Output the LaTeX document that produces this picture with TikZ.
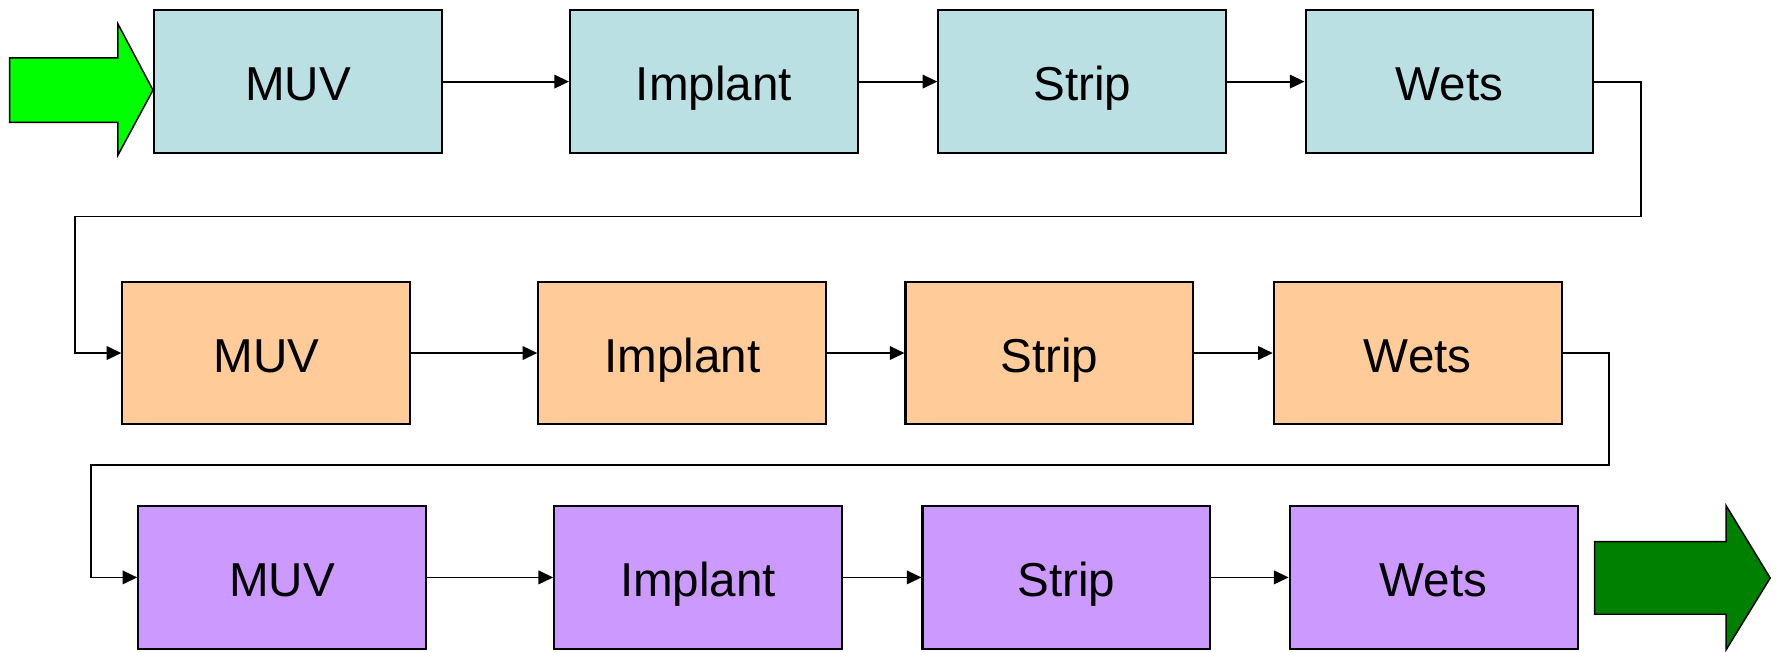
\documentclass[tikz,border=0pt]{standalone}
\usepackage{fontspec}
\setmainfont{Liberation Sans}
\usetikzlibrary{arrows.meta}
\definecolor{rowblue}{HTML}{BBE0E3}
\definecolor{rowpeach}{HTML}{FFCC99}
\definecolor{rowlilac}{HTML}{CC99FF}
\definecolor{startgreen}{HTML}{00FF00}
\definecolor{endgreen}{HTML}{008000}
\begin{document}
\begin{tikzpicture}[x=1pt,y=-1pt,
  stage/.style={draw=black, line width=1.8pt, minimum width=254pt,
    minimum height=126pt, inner sep=0pt, text height=34pt, text depth=0pt,
    font=\fontsize{42}{50}\selectfont},
  flow/.style={line width=1.6pt, -{Triangle[length=13pt,width=12pt]}},
  bigarrow/.style={draw=black, line width=1.3pt, line join=miter}]
\useasboundingbox (0,0) rectangle (1568,575);

% first pass
\node[stage, fill=rowblue] (a1) at (263,72) {MUV};
\node[stage, fill=rowblue] (a2) at (630,72) {Implant};
\node[stage, fill=rowblue] (a3) at (955,72) {Strip};
\node[stage, fill=rowblue] (a4) at (1279,72) {Wets};

% second pass
\node[stage, fill=rowpeach] (b1) at (235,311.5) {MUV};
\node[stage, fill=rowpeach] (b2) at (602,311.5) {Implant};
\node[stage, fill=rowpeach] (b3) at (926,311.5) {Strip};
\node[stage, fill=rowpeach] (b4) at (1251,311.5) {Wets};

% third pass
\node[stage, fill=rowlilac] (c1) at (249,509.5) {MUV};
\node[stage, fill=rowlilac] (c2) at (616,509.5) {Implant};
\node[stage, fill=rowlilac] (c3) at (941,509.5) {Strip};
\node[stage, fill=rowlilac] (c4) at (1265,509.5) {Wets};

% wrap-around turning points
\coordinate (r1) at (1448,191);
\coordinate (l1) at (66,191);
\coordinate (r2) at (1420,410);
\coordinate (l2) at (80,410);

\draw[flow] (a1) -- (a2);
\draw[flow] (a2) -- (a3);
\draw[flow] (a3) -- (a4);
\draw[flow] (a4.east) -| (r1) -- (l1) |- (b1.west);
\draw[flow] (b1) -- (b2);
\draw[flow] (b2) -- (b3);
\draw[flow] (b3) -- (b4);
\draw[flow] (b4.east) -| (r2) -- (l2) |- (c1.west);
\draw[flow] (c1) -- (c2);
\draw[flow] (c2) -- (c3);
\draw[flow] (c3) -- (c4);

% entry and exit block arrows
\draw[bigarrow, fill=startgreen] (8.5,51) -- (104,51) -- (104,21) -- (135,79.5)
  -- (104,137) -- (104,108) -- (8.5,108) -- cycle;
\draw[bigarrow, fill=endgreen] (1407,478) -- (1523,478) -- (1523,446) -- (1562,510)
  -- (1523,573.5) -- (1523,542) -- (1407,542) -- cycle;
\end{tikzpicture}
\end{document}
